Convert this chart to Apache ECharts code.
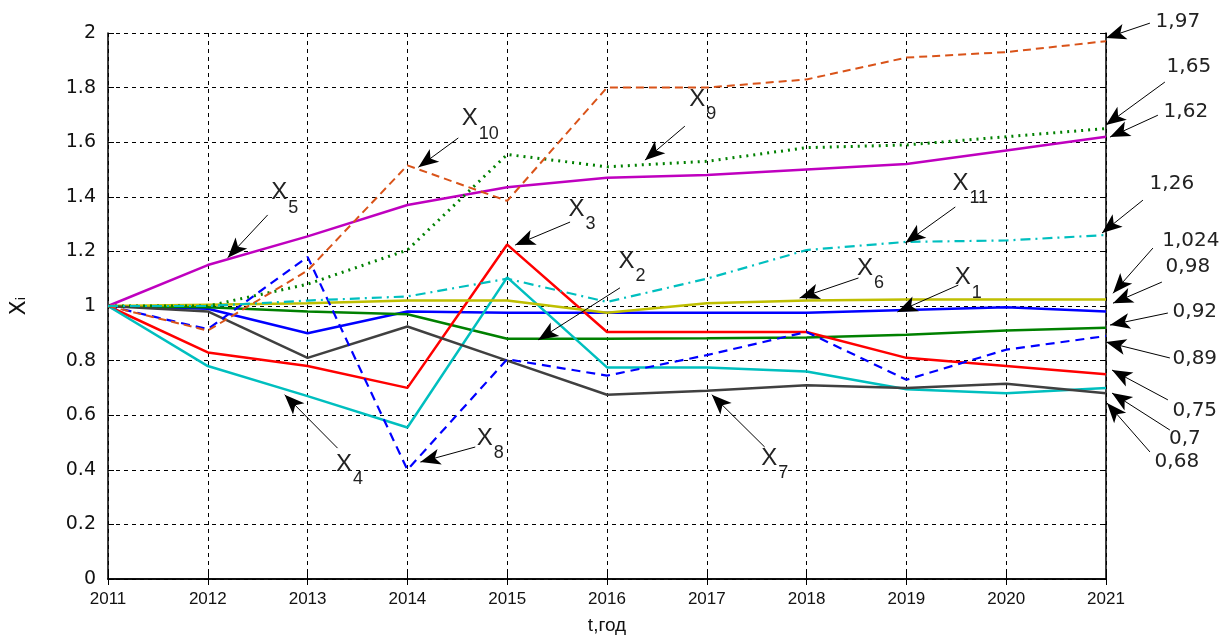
<!DOCTYPE html>
<html>
<head>
<meta charset="utf-8">
<script src="https://cdn.jsdelivr.net/npm/echarts@6/dist/echarts.min.js"></script>
<style>
  html, body { margin: 0; padding: 0; background: #fff; }
  #chart { width: 1226px; height: 640px; }
</style>
</head>
<body>
<div id="chart"></div>
<script>
// years on the t axis
var years = [2011, 2012, 2013, 2014, 2015, 2016, 2017, 2018, 2019, 2020, 2021];

// index values
var x1  = [1.0, 0.99, 0.90, 0.98, 0.975, 0.975, 0.975, 0.975, 0.985, 0.995, 0.98];
var x2  = [1.0, 0.995, 0.98, 0.97, 0.88, 0.88, 0.882, 0.885, 0.895, 0.91, 0.92];
var x3  = [1.0, 0.83, 0.78, 0.70, 1.225, 0.905, 0.905, 0.905, 0.81, 0.78, 0.75];
var x4  = [1.0, 0.78, 0.67, 0.555, 1.105, 0.775, 0.775, 0.76, 0.695, 0.68, 0.70];
var x5  = [1.0, 1.15, 1.255, 1.37, 1.435, 1.47, 1.48, 1.50, 1.52, 1.57, 1.62];
var x6  = [1.0, 1.005, 1.01, 1.02, 1.02, 0.975, 1.01, 1.02, 1.024, 1.024, 1.024];
var x7  = [1.0, 0.98, 0.81, 0.925, 0.80, 0.675, 0.69, 0.71, 0.70, 0.715, 0.68];
var x8  = [1.0, 0.915, 1.18, 0.40, 0.805, 0.745, 0.82, 0.905, 0.73, 0.84, 0.89];
var x9  = [1.0, 1.0, 1.08, 1.205, 1.555, 1.51, 1.53, 1.58, 1.59, 1.62, 1.65];
var x10 = [1.0, 0.91, 1.13, 1.515, 1.385, 1.80, 1.80, 1.83, 1.91, 1.93, 1.97];
var x11 = [1.0, 1.0, 1.02, 1.035, 1.10, 1.015, 1.10, 1.205, 1.235, 1.24, 1.26];

// series name labels: [index, labelX, labelY, tailX, tailY, tipX, tipY]
var nameNotes = [
  ['5', 2012.77, 1.41, 2012.6, 1.336, 2012.2, 1.18],
  ['10', 2014.73, 1.68, 2014.51, 1.617, 2014.11, 1.51],
  ['9', 2016.96, 1.75, 2016.78, 1.66, 2016.38, 1.536],
  ['3', 2015.75, 1.35, 2015.63, 1.31, 2015.08, 1.226],
  ['2', 2016.25, 1.16, 2016.13, 1.07, 2015.31, 0.88],
  ['11', 2019.64, 1.445, 2019.49, 1.365, 2018.99, 1.234],
  ['6', 2018.64, 1.135, 2018.52, 1.106, 2017.93, 1.033],
  ['1', 2019.62, 1.10, 2019.52, 1.08, 2018.91, 0.982],
  ['4', 2013.42, 0.42, 2013.30, 0.485, 2012.77, 0.68],
  ['8', 2014.83, 0.515, 2014.68, 0.489, 2014.13, 0.434],
  ['7', 2017.68, 0.44, 2017.58, 0.489, 2017.05, 0.68]
];

// final values on the right: [text, labelX, labelY, tailX, tailY, tipX, tipY]
var endNotes = [
  ['1,97', 2021.72, 2.04, 2021.44, 2.036, 2021.0, 1.982],
  ['1,65', 2021.83, 1.876, 2021.59, 1.821, 2021.0, 1.664],
  ['1,62', 2021.80, 1.712, 2021.52, 1.70, 2021.04, 1.62],
  ['1,26', 2021.66, 1.449, 2021.37, 1.39, 2020.96, 1.27],
  ['1,024', 2021.85, 1.241, 2021.47, 1.215, 2021.07, 1.05],
  ['0,98', 2021.82, 1.146, 2021.56, 1.091, 2021.07, 1.014],
  ['0,92', 2021.89, 0.982, 2021.62, 0.978, 2021.04, 0.934],
  ['0,89', 2021.89, 0.810, 2021.64, 0.814, 2021.0, 0.872],
  ['0,75', 2021.89, 0.620, 2021.62, 0.661, 2021.06, 0.77],
  ['0,7', 2021.79, 0.518, 2021.64, 0.551, 2021.06, 0.686],
  ['0,68', 2021.71, 0.434, 2021.44, 0.471, 2021.01, 0.65]
];

function line(name, values, color, width, type) {
  return {
    name: name,
    type: 'line',
    data: years.map(function (y, i) { return [y, values[i]]; }),
    symbol: 'none',
    clip: false,
    lineStyle: { color: color, width: width, type: type || 'solid' }
  };
}

var arrows = [];
var labels = [];
nameNotes.forEach(function (n) {
  arrows.push([{ coord: [n[3], n[4]] }, { coord: [n[5], n[6]] }]);
  labels.push({ coord: [n[1], n[2]], label: { formatter: '{b|X}{s|' + n[0] + '}' } });
});
endNotes.forEach(function (n) {
  arrows.push([{ coord: [n[3], n[4]] }, { coord: [n[5], n[6]] }]);
  labels.push({ coord: [n[1], n[2]], label: { formatter: '{v|' + n[0] + '}' } });
});

var series = [
  line('X1', x1, '#0000ff', 2.5),
  line('X2', x2, '#008000', 2.5),
  line('X3', x3, '#ff0000', 2.5),
  line('X4', x4, '#00bfbf', 2.5),
  line('X5', x5, '#bf00bf', 2.5),
  line('X6', x6, '#bfbf00', 2.5),
  line('X7', x7, '#404040', 2.5),
  line('X8', x8, '#0000ff', 2.2, [9, 6]),
  line('X9', x9, '#008000', 3, [2, 5]),
  line('X10', x10, '#d95319', 2, [8, 5]),
  line('X11', x11, '#00bfbf', 2.2, [10, 5, 2, 5]),
  {
    // annotations live on a wider, hidden coordinate system sharing the same scale
    name: 'notes',
    type: 'line',
    xAxisIndex: 2,
    yAxisIndex: 2,
    data: [],
    clip: false,
    silent: true,
    markLine: {
      silent: true,
      symbol: ['none', 'arrow'],
      symbolSize: [12, 20],
      label: { show: false },
      lineStyle: { color: '#000', width: 1, type: 'solid' },
      emphasis: { disabled: true },
      data: arrows
    },
    markPoint: {
      silent: true,
      symbol: 'circle',
      symbolSize: 0,
      label: {
        show: true,
        position: 'inside',
        color: '#222',
        rich: {
          b: { fontFamily: 'Liberation Sans', fontSize: 24, color: '#222', verticalAlign: 'top', lineHeight: 28 },
          s: { fontFamily: 'Liberation Sans', fontSize: 18, color: '#222', verticalAlign: 'top', padding: [18, 0, 0, 1], lineHeight: 20 },
          v: { fontFamily: 'DejaVu Sans', fontSize: 20, color: '#222' }
        }
      },
      data: labels
    }
  }
];

var tickLabelFont = 'Liberation Sans Narrow, Liberation Sans';
var chart = echarts.init(document.getElementById('chart'));
chart.setOption({
  animation: false,
  backgroundColor: '#fff',
  grid: [
    { left: 108, right: 120, top: 33, bottom: 59 },
    // 998px per 10 years and 548px per 2 units, extended to the right and top edges
    { left: 108, right: 0, top: 0, bottom: 59 }
  ],
  xAxis: [{
    type: 'value', min: 2011, max: 2021, interval: 1, gridIndex: 0,
    name: 't,год', nameLocation: 'middle', nameGap: 37,
    nameTextStyle: { fontFamily: tickLabelFont, fontSize: 19, color: '#111' },
    axisLine: { lineStyle: { color: '#000', width: 1.5 } },
    axisTick: { inside: true, length: 6, lineStyle: { color: '#000' } },
    axisLabel: { fontFamily: tickLabelFont, fontSize: 17, color: '#111', margin: 12,
      formatter: function (v) { return String(v); } },
    splitLine: { show: true, lineStyle: { color: '#000', type: [4, 4], width: 1 } }
  }, {
    type: 'value', min: 2011, max: 2021, interval: 1, position: 'top', gridIndex: 0,
    axisLine: { show: true, lineStyle: { color: '#000', width: 1.5 } },
    axisTick: { show: true, inside: true, length: 6, lineStyle: { color: '#000' } },
    axisLabel: { show: false }, splitLine: { show: false }
  }, {
    type: 'value', gridIndex: 1, min: 2011, max: 2011 + 1118 / 99.8, show: false
  }],
  yAxis: [{
    type: 'value', min: 0, max: 2, interval: 0.2, gridIndex: 0,
    name: 'X\u1D62', nameLocation: 'middle', nameGap: 78, nameRotate: 90,
    nameTextStyle: { fontFamily: 'DejaVu Sans', fontSize: 22, color: '#111' },
    axisLine: { show: true, lineStyle: { color: '#000', width: 1.5 } },
    axisTick: { show: true, inside: true, length: 6, lineStyle: { color: '#000' } },
    axisLabel: {
      fontFamily: 'DejaVu Sans', fontSize: 19, color: '#111', margin: 12,
      formatter: function (v) { return String(Math.round(v * 10) / 10); }
    },
    splitLine: { show: true, lineStyle: { color: '#000', type: [4, 4], width: 1 } }
  }, {
    type: 'value', min: 0, max: 2, interval: 0.2, position: 'right', gridIndex: 0,
    axisLine: { show: true, lineStyle: { color: '#000', width: 1.5 } },
    axisTick: { show: true, inside: true, length: 6, lineStyle: { color: '#000' } },
    axisLabel: { show: false }, splitLine: { show: false }
  }, {
    type: 'value', gridIndex: 1, min: 0, max: 581 / 274, show: false
  }],
  series: series
});
</script>
</body>
</html>
